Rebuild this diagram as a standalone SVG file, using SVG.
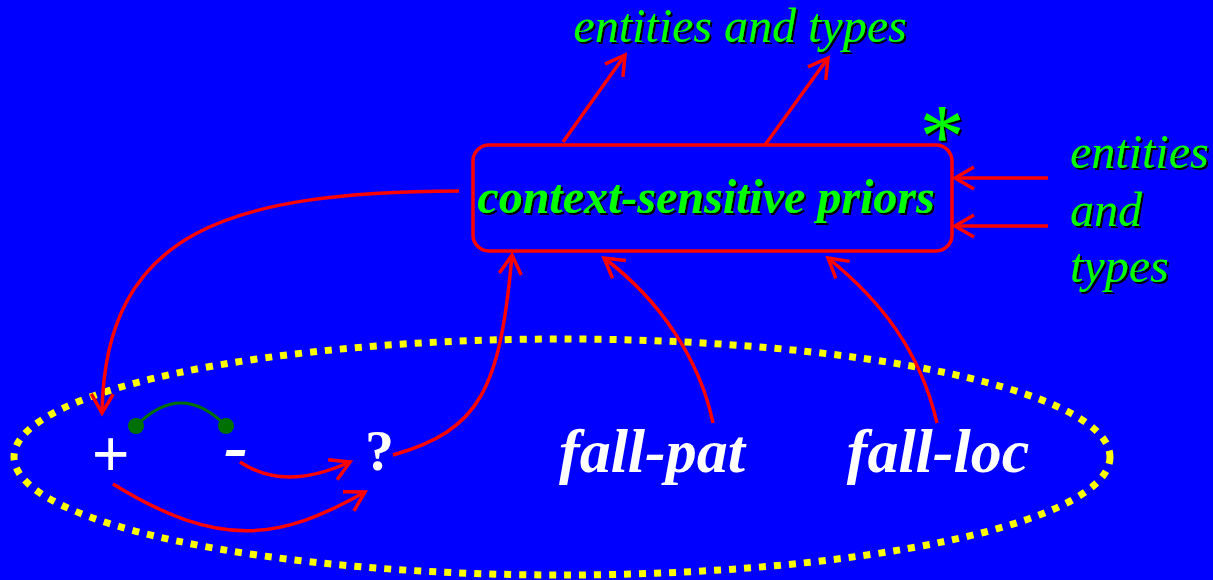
<svg xmlns="http://www.w3.org/2000/svg" width="1213" height="580" viewBox="0 0 1213 580">
<defs>
<style>
.lbl{font-family:"Liberation Serif","Times New Roman",serif;font-style:italic;fill:#00FF00;font-size:48px;filter:url(#sh)}
.bold{font-weight:bold}
.wt{font-family:"Liberation Serif","Times New Roman",serif;fill:#FFFFFF;font-weight:bold}
.con{fill:none;stroke:#FF0000;stroke-width:3.5}
</style>
<filter id="sh" x="-10%" y="-10%" width="120%" height="130%">
<feDropShadow dx="2" dy="2" stdDeviation="0" flood-color="#000000"/>
</filter>
<marker id="ah" viewBox="-22 -13 26 26" refX="0" refY="0" markerWidth="26" markerHeight="26" markerUnits="userSpaceOnUse" orient="auto">
<path d="M-19,-11 L0,0 L-19,11" fill="none" stroke="#FF0000" stroke-width="3.5"/>
</marker>
</defs>
<rect x="0" y="0" width="1213" height="580" fill="#0000FF"/>
<g id="group-ellipse">
<ellipse cx="562" cy="457" rx="548" ry="118" fill="none" stroke="#FFFF00" stroke-width="7" stroke-dasharray="7 8"/>
</g>
<g id="connectors">
<line class="con" x1="563" y1="142" x2="625" y2="55" marker-end="url(#ah)"/>
<line class="con" x1="765" y1="145" x2="828" y2="58" marker-end="url(#ah)"/>
<line class="con" x1="1048" y1="178" x2="955" y2="178" marker-end="url(#ah)"/>
<line class="con" x1="1048" y1="226" x2="955" y2="226" marker-end="url(#ah)"/>
<path class="con" d="M459,191 C230,192 105,230 102,413" marker-end="url(#ah)"/>
<path class="con" d="M393,455 C480,430 500,390 512,255" marker-end="url(#ah)"/>
<path class="con" d="M713,423 C700,360 660,300 604,258" marker-end="url(#ah)"/>
<path class="con" d="M937,423 C920,350 880,300 828,258" marker-end="url(#ah)"/>
<path class="con" d="M240,462 C270,482 305,482 350,462" marker-end="url(#ah)"/>
<path class="con" d="M113,484 C220,550 280,540 365,492" marker-end="url(#ah)"/>
<path d="M136,426 Q181,380 226,426" fill="none" stroke="#007000" stroke-width="3"/>
<circle cx="136" cy="426" r="8" fill="#007000"/>
<circle cx="226" cy="426" r="8" fill="#007000"/>
</g>
<g id="node-priors">
<rect x="473" y="145" width="479" height="106" rx="16" fill="#0000FF" stroke="#FF0000" stroke-width="3.5"/>
<text class="lbl bold" x="706" y="213" text-anchor="middle">context-sensitive priors</text>
</g>
<g id="node-star">
<text class="lbl" x="942" y="167" text-anchor="middle" style="font-size:90px;font-style:normal">*</text>
</g>
<g id="node-top-label">
<text class="lbl" x="740" y="42" text-anchor="middle">entities and types</text>
</g>
<g id="node-right-label">
<text class="lbl" x="1070" y="168">entities</text>
<text class="lbl" x="1070" y="226">and</text>
<text class="lbl" x="1070" y="282">types</text>
</g>
<g id="node-plus">
<text x="92" y="476" font-family="'Liberation Sans',Arial,sans-serif" font-size="64" fill="#FFFFFF">+</text>
</g>
<g id="node-minus">
<text class="wt" x="224" y="470" font-size="72" font-style="italic">-</text>
</g>
<g id="node-question">
<text class="wt" x="365" y="470" font-size="58">?</text>
</g>
<g id="node-fall-pat">
<text class="wt" x="652" y="472" font-size="62" font-style="italic" text-anchor="middle">fall-pat</text>
</g>
<g id="node-fall-loc">
<text class="wt" x="938" y="472" font-size="62" font-style="italic" text-anchor="middle">fall-loc</text>
</g>
</svg>
